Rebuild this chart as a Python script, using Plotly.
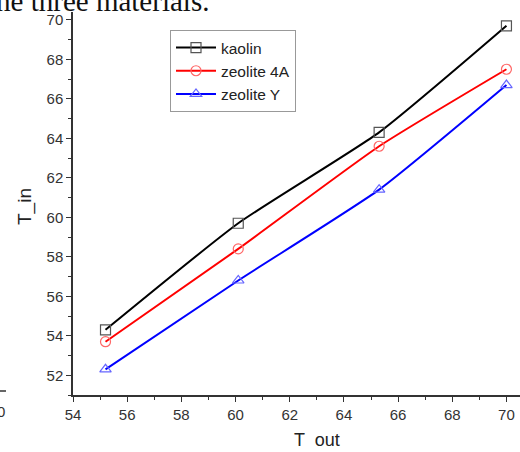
import plotly.graph_objects as go

t_out = [55.2, 60.1, 65.3, 70.0]
kaolin = [54.3, 59.7, 64.3, 69.7]
zeolite_4a = [53.7, 58.4, 63.6, 67.5]
zeolite_y = [52.3, 56.8, 61.4, 66.7]

x_ticks = [54, 56, 58, 60, 62, 64, 66, 68, 70]
y_ticks = [52, 54, 56, 58, 60, 62, 64, 66, 68, 70]

W, H = 520, 452
L, R, T, B = 73, 0, 12, 57
pw = W - L - R
ph = H - T - B

def px(x):
    return (x - L) / pw

def py(y):
    return (H - B - y) / ph

fig = go.Figure()
series = [
    ("kaolin", kaolin, "#000000", "#555555", "square-open"),
    ("zeolite 4A", zeolite_4a, "#ff0000", "#ff6666", "circle-open"),
    ("zeolite Y", zeolite_y, "#0000ff", "#6666ff", "triangle-up-open"),
]
for name, ys, lc, mc, sym in series:
    fig.add_trace(go.Scatter(
        x=t_out, y=ys, name=name, mode="lines+markers", cliponaxis=False,
        line=dict(color=lc, width=2, shape="spline", smoothing=0.5),
        marker=dict(symbol=sym, size=10, color=mc, line=dict(color=mc, width=1.2)),
    ))

axis_common = dict(
    showgrid=False, zeroline=False, showline=True, linecolor="#333333", linewidth=1.5,
    ticks="outside", ticklen=5, tickwidth=1.2, tickcolor="#333333", automargin=False,
    tickfont=dict(family="Arial, Liberation Sans", size=15, color="#333333"),
    minor=dict(ticks="outside", ticklen=3, tickwidth=1.2, tickcolor="#333333", dtick=1),
)
fig.update_xaxes(range=[54, 70.5], tickvals=x_ticks, ticktext=[str(v) for v in x_ticks], **axis_common)
fig.update_yaxes(range=[51, 70.4], tickvals=y_ticks, ticktext=[str(v) for v in y_ticks], **axis_common)

fig.update_layout(
    width=W, height=H, margin=dict(l=L, r=R, t=T, b=B, pad=0),
    paper_bgcolor="white", plot_bgcolor="white",
    showlegend=True,
    legend=dict(
        x=px(170), y=py(30), xanchor="left", yanchor="top",
        bordercolor="#999999", borderwidth=1, bgcolor="white",
        font=dict(family="Arial, Liberation Sans", size=15.5, color="#222222"),
        itemwidth=40, tracegroupgap=0,
    ),
    annotations=[
        dict(text="T_in", xref="paper", yref="paper", x=px(25), y=py(207),
             textangle=-90, showarrow=False, xanchor="center", yanchor="middle",
             font=dict(family="Arial, Liberation Sans", size=19, color="#222222")),
        dict(text="T  out", xref="paper", yref="paper", x=px(317), y=py(440),
             showarrow=False, xanchor="center", yanchor="middle",
             font=dict(family="Arial, Liberation Sans", size=18, color="#222222")),
        dict(text="the three materials.", xref="paper", yref="paper", x=px(-14), y=py(19),
             showarrow=False, xanchor="left", yanchor="bottom",
             font=dict(family="Liberation Serif, Times New Roman", size=29, color="#111111")),
        dict(text="0", xref="paper", yref="paper", x=px(-5), y=py(411),
             showarrow=False, xanchor="left", yanchor="middle",
             font=dict(family="Arial, Liberation Sans", size=15, color="#333333")),
    ],
    shapes=[
        dict(type="line", xref="paper", yref="paper", x0=px(0), x1=px(6), y0=py(391), y1=py(391),
             line=dict(color="#333333", width=1.5)),
    ],
)

fig.write_html("out.html", config={"displayModeBar": False},
               post_script="document.body.style.margin='0';document.body.style.padding='0';")
